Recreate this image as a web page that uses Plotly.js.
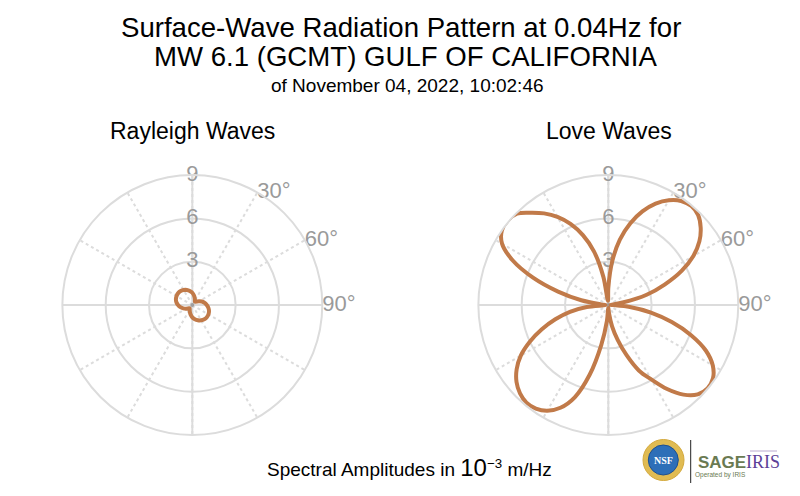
<!DOCTYPE html>
<html>
<head>
<meta charset="utf-8">
<script src="https://cdn.plot.ly/plotly-3.0.1.min.js"></script>
<style>html,body{margin:0;padding:0;background:#fff;}#chart{width:800px;height:496px;}</style>
</head>
<body>
<div id="chart"></div>
<script>
// ---- data (amplitudes in 1e-3 m/Hz, azimuth in degrees clockwise from north) ----
const rayleighAzimuth = [0,10,20,30,40,50,60,70,80,90,100,110,120,130,140,150,160,170,180,190,200,210,220,230,240,250,260,270,280,290,300,310,320,330,340,350,360];
const rayleighAmp = [0.85,0.67,0.50,0.36,0.29,0.37,0.53,0.71,0.87,1.00,1.13,1.23,1.29,1.31,1.29,1.22,1.12,1.00,0.85,0.67,0.50,0.36,0.29,0.36,0.50,0.67,0.84,0.99,1.12,1.21,1.26,1.28,1.26,1.20,1.11,0.99,0.85];

const loveAzimuth = [0,5,10,15,20,25,30,35,40,45,50,55,60,65,70,75,80,85,90,95,100,105,110,115,120,125,130,135,140,145,150,155,160,165,170,175,180,185,190,195,200,205,210,215,220,225,230,235,240,245,250,255,260,265,270,275,280,285,290,295,300,305,310,315,320,325,330,335,340,345,350,355,360];
const loveAmp = [1.2,3.0,4.6,5.85,6.9,7.75,8.38,8.8,8.95,8.8,8.35,7.7,6.8,5.6,4.15,2.75,1.0,0.15,0.3,1.5,3.0,4.55,6.1,7.45,8.35,8.85,8.97,8.75,8.1,7.1,5.95,5.0,3.7,2.5,1.5,0.6,0.2,1.1,2.8,5.0,6.8,7.85,8.45,8.75,8.82,8.65,8.3,7.75,7.0,6.0,4.9,3.8,2.7,1.5,0.2,0.5,1.9,3.6,5.55,7.3,8.5,9.0,9.1,8.95,8.35,7.75,7.05,6.2,5.15,3.85,2.0,0.3,1.2];

const radialTicks = [3, 6, 9];
const radialTickText = ['3', '6', '9'];
const angularTicks = [30, 60, 90];
const angularTickText = ['30°', '60°', '90°'];
const radialMax = 9;

// ---- styles ----
const FONT = 'Liberation Sans, Arial, Helvetica, sans-serif';
const LINE_COLOR = '#c17a49';
const GRID = '#dcdcdc';
const TICK_COLOR = '#9a9a9a';

function polarLayout(domainX) {
  return {
    domain: {x: domainX, y: [0.123, 0.647]},
    bgcolor: 'rgba(0,0,0,0)',
    radialaxis: {
      range: [0, radialMax], tickvals: radialTicks, showticklabels: false,
      ticks: '', showline: false, gridcolor: GRID, gridwidth: 2, angle: 90
    },
    angularaxis: {
      rotation: 90, direction: 'clockwise', tickmode: 'linear', tick0: 0, dtick: 30,
      showticklabels: false, ticks: '', gridcolor: GRID, gridwidth: 2, griddash: 'dot',
      showline: true, linecolor: GRID, linewidth: 2
    }
  };
}

function gridCross(sub) {
  return [
    {type: 'scatterpolar', subplot: sub, mode: 'lines', r: [radialMax, radialMax], theta: [0, 180],
     line: {color: GRID, width: 2}, hoverinfo: 'skip', showlegend: false},
    {type: 'scatterpolar', subplot: sub, mode: 'lines', r: [radialMax, radialMax], theta: [90, 270],
     line: {color: GRID, width: 2}, hoverinfo: 'skip', showlegend: false},
    {type: 'scatterpolar', subplot: sub, mode: 'markers', r: [0], theta: [0],
     marker: {color: '#a0a0a0', size: 4}, hoverinfo: 'skip', showlegend: false}
  ];
}

function tickLabels(sub) {
  return [
    {type: 'scatterpolar', subplot: sub, mode: 'text', r: radialTicks, theta: radialTicks.map(() => 0),
     text: radialTickText, textposition: 'middle center', cliponaxis: false,
     textfont: {family: FONT, size: 22, color: TICK_COLOR}, hoverinfo: 'skip', showlegend: false},
    {type: 'scatterpolar', subplot: sub, mode: 'text', r: angularTicks.map(() => radialMax), theta: angularTicks,
     text: angularTickText, textposition: 'middle right', cliponaxis: false,
     textfont: {family: FONT, size: 22, color: TICK_COLOR}, hoverinfo: 'skip', showlegend: false}
  ];
}

const traces = [].concat(
  gridCross('polar'), tickLabels('polar'),
  [{type: 'scatterpolar', subplot: 'polar', mode: 'lines', r: rayleighAmp, theta: rayleighAzimuth,
    line: {color: LINE_COLOR, width: 4, shape: 'spline'}, showlegend: false, cliponaxis: false}],
  gridCross('polar2'), tickLabels('polar2'),
  [{type: 'scatterpolar', subplot: 'polar2', mode: 'lines', r: loveAmp, theta: loveAzimuth,
    line: {color: LINE_COLOR, width: 4, shape: 'spline'}, showlegend: false, cliponaxis: false}]
);

const W = 800, H = 496;
function px(x) { return x / W; }
function py(y) { return 1 - y / H; }

function ann(text, xPx, yPx, size, color, family, extra) {
  return Object.assign({text: text, x: px(xPx), y: py(yPx), xref: 'paper', yref: 'paper',
    xanchor: 'center', yanchor: 'middle', showarrow: false,
    font: {family: family || FONT, size: size, color: color || '#000'}}, extra || {});
}

const layout = {
  width: W, height: H,
  margin: {l: 0, r: 0, t: 0, b: 0},
  paper_bgcolor: '#fff',
  showlegend: false,
  hovermode: false,
  polar: polarLayout([0.0779, 0.4029]),
  polar2: polarLayout([0.5979, 0.9229]),
  annotations: [
    ann('Surface-Wave Radiation Pattern at 0.04Hz for', 401.5, 27, 27.6),
    ann('MW 6.1 (GCMT) GULF OF CALIFORNIA', 406, 57, 27.6),
    ann('of November 04, 2022, 10:02:46', 407, 85, 19),
    ann('Rayleigh Waves', 192.5, 131, 23),
    ann('Love Waves', 608.5, 131, 23),
    ann('Spectral Amplitudes in <span style="font-size:24px">10</span><sup>−3</sup> m/Hz', 410, 467, 19),
    // logo texts
    ann('<b>NSF</b>', 663.3, 460, 10, '#ffffff', 'Liberation Serif, serif'),
    ann('<b>SAGE</b>', 721.5, 462, 17, '#6a7a52', 'Liberation Sans Narrow, Liberation Sans, Arial, sans-serif'),
    ann('Operated by IRIS', 720, 475, 6.5, '#6a7a52'),
    ann('IRIS', 763, 462, 18, '#5c3f97', 'Liberation Serif, serif')
  ],
  shapes: [
    {type: 'circle', xref: 'paper', yref: 'paper', x0: px(643), x1: px(684), y0: py(480.5), y1: py(439.5),
     fillcolor: '#e0bb52', line: {color: '#d4a93c', width: 1}},
    {type: 'circle', xref: 'paper', yref: 'paper', x0: px(648.3), x1: px(678.3), y0: py(475), y1: py(445),
     fillcolor: '#2d6fb8', line: {color: '#1d4f8f', width: 1}},
    {type: 'line', xref: 'paper', yref: 'paper', x0: px(690.7), x1: px(690.7), y0: py(483), y1: py(440),
     line: {color: '#222', width: 1}},
    {type: 'line', xref: 'paper', yref: 'paper', x0: px(750), x1: px(777), y0: py(451), y1: py(451),
     line: {color: '#b9a9cf', width: 1}}
  ]
};

Plotly.newPlot('chart', traces, layout, {staticPlot: true, displayModeBar: false});
</script>
</body>
</html>
